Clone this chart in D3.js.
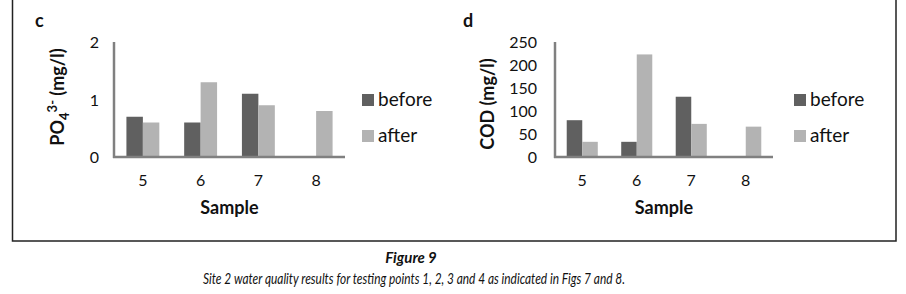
<!DOCTYPE html>
<html>
  <head>
    <style>
      body,
      html {
        margin: 0;
        padding: 0;
        background: #fff;
      }
      text {
        font-family: Lato, 'Open Sans', sans-serif;
        fill: #111;
      }
    </style>
  </head>
  <body>
    <svg id="svg" width="906" height="294"></svg>

    <script src="https://cdn.jsdelivr.net/npm/d3@7"></script>
    <script>
      const samples = ['5', '6', '7', '8'];
      const seriesNames = ['before', 'after'];

      // panel c: phosphate
      const po4Before = [0.7, 0.6, 1.1, null];
      const po4After = [0.6, 1.3, 0.9, 0.8];
      const po4Ticks = [0, 1, 2];

      // panel d: COD
      const codBefore = [80, 33, 131, null];
      const codAfter = [33, 223, 72, 66];
      const codTicks = [0, 50, 100, 150, 200, 250];

      const colors = { before: '#606060', after: '#b3b3b3' };
      const axisColor = '#808080';

      const svg = d3.select('#svg');

      // outer frame (open at the top)
      svg
        .append('path')
        .attr('d', 'M12.5,0 V241 H896 V0')
        .attr('fill', 'none')
        .attr('stroke', '#222')
        .attr('stroke-width', 1.5);

      const drawPanel = (opts) => {
        const { left, right, top, bottom, before, after, ticks, letter, pad } =
          opts;
        const g = svg.append('g');

        const xScale = d3
          .scaleBand()
          .domain(samples)
          .range([left, right])
          .paddingInner(0.43)
          .paddingOuter(0.215);

        const xInner = d3
          .scaleBand()
          .domain(seriesNames)
          .range([0, xScale.bandwidth()]);

        const yScale = d3
          .scaleLinear()
          .domain([0, d3.max(ticks)])
          .range([bottom, top]);

        const rows = [];
        samples.forEach((s, i) => {
          rows.push({ sample: s, series: 'before', value: before[i] });
          rows.push({ sample: s, series: 'after', value: after[i] });
        });

        g.selectAll('rect.bar')
          .data(rows.filter((d) => d.value !== null))
          .enter()
          .append('rect')
          .attr('class', 'bar')
          .attr('x', (d) => xScale(d.sample) + xInner(d.series))
          .attr('y', (d) => yScale(d.value))
          .attr('width', xInner.bandwidth())
          .attr('height', (d) => bottom - yScale(d.value))
          .attr('fill', (d) => colors[d.series]);

        // y axis
        const leftAxis = d3
          .axisLeft(yScale)
          .tickValues(ticks)
          .tickFormat(d3.format('d'))
          .tickSize(0)
          .tickPadding(pad);
        const ya = g
          .append('g')
          .attr('transform', `translate(${left}, 0)`)
          .call(leftAxis);
        ya.select('.domain')
          .attr('d', `M0,${top}V${bottom + 1}`)
          .attr('stroke', axisColor)
          .attr('stroke-width', 2.5);
        ya.selectAll('text')
          .attr('font-size', 16)
          .attr('font-family', 'Lato, sans-serif')
          .attr('fill', '#222')
          .attr('dy', '0.36em');

        // x axis
        const bottomAxis = d3.axisBottom(xScale).tickSize(0).tickPadding(18);
        const xa = g
          .append('g')
          .attr('transform', `translate(0, ${bottom})`)
          .call(bottomAxis);
        xa.select('.domain')
          .attr('d', `M${left - 1},0H${right}`)
          .attr('stroke', axisColor)
          .attr('stroke-width', 2.5);
        xa.selectAll('text')
          .attr('font-size', 16)
          .attr('font-family', 'Lato, sans-serif')
          .attr('fill', '#222');

        // x title
        g.append('text')
          .attr('x', (left + right) / 2)
          .attr('y', 214)
          .attr('text-anchor', 'middle')
          .attr('font-size', 18)
          .attr('font-weight', 'bold')
          .text('Sample');

        // panel letter
        g.append('text')
          .attr('x', opts.letterX)
          .attr('y', 27)
          .attr('font-size', 18)
          .attr('font-weight', 'bold')
          .text(letter);

        // legend
        const legend = g
          .append('g')
          .attr('transform', `translate(${opts.legendX}, 94)`);
        seriesNames.forEach((name, i) => {
          legend
            .append('rect')
            .attr('x', 0)
            .attr('y', i * 36)
            .attr('width', 12)
            .attr('height', 12)
            .attr('fill', colors[name]);
          legend
            .append('text')
            .attr('x', 16)
            .attr('y', i * 36 + 12)
            .attr('font-size', 19)
            .attr('fill', '#222')
            .text(name);
        });

        return g;
      };

      const gc = drawPanel({
        left: 114,
        right: 345,
        top: 42,
        bottom: 157,
        before: po4Before,
        after: po4After,
        ticks: po4Ticks,
        letter: 'c',
        letterX: 35,
        legendX: 362,
        pad: 15,
      });

      const titleC = gc
        .append('text')
        .attr('transform', 'translate(64, 97) rotate(-90)')
        .attr('text-anchor', 'middle')
        .attr('font-size', 18)
        .attr('font-weight', 'bold');
      titleC.append('tspan').text('PO');
      titleC.append('tspan').attr('dy', 5).attr('font-size', 13).text('4');
      titleC.append('tspan').attr('dy', -12).attr('font-size', 13).text('3-');
      titleC.append('tspan').attr('dy', 7).text(' (mg/l)');

      const gd = drawPanel({
        left: 555,
        right: 773,
        top: 42,
        bottom: 157,
        before: codBefore,
        after: codAfter,
        ticks: codTicks,
        letter: 'd',
        letterX: 463,
        legendX: 794,
        pad: 18,
      });

      gd.append('text')
        .attr('transform', 'translate(494, 104) rotate(-90)')
        .attr('text-anchor', 'middle')
        .attr('font-size', 18)
        .attr('font-weight', 'bold')
        .text('COD (mg/l)');

      // caption
      svg
        .append('text')
        .attr('x', 411)
        .attr('y', 263)
        .attr('text-anchor', 'middle')
        .attr('font-size', 15)
        .attr('font-weight', 'bold')
        .attr('font-style', 'italic')
        .attr('fill', '#333')
        .text('Figure 9');

      svg
        .append('text')
        .attr('x', 414)
        .attr('y', 284)
        .attr('text-anchor', 'middle')
        .attr('font-size', 15)
        .attr('font-style', 'italic')
        .attr('fill', '#333')
        .attr('textLength', 422)
        .attr('lengthAdjust', 'spacingAndGlyphs')
        .text(
          'Site 2 water quality results for testing points 1, 2, 3 and 4 as indicated in Figs 7 and 8.'
        );
    </script>
  </body>
</html>
